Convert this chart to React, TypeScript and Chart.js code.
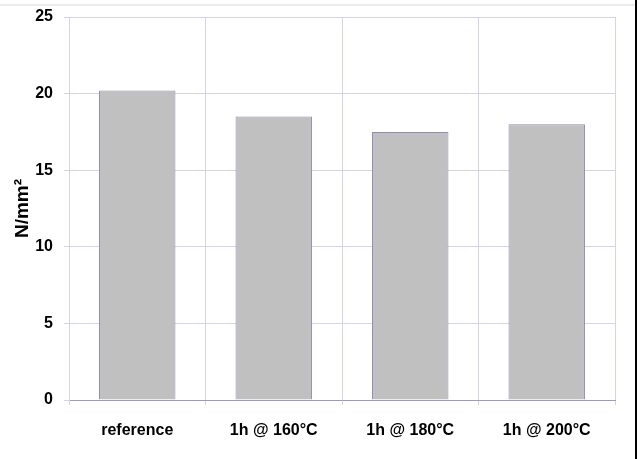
import React, { useEffect, useRef } from "react";
import { Chart, registerables } from "chart.js";

Chart.register(...registerables);

const categories = ["reference", "1h @ 160°C", "1h @ 180°C", "1h @ 200°C"];
const strength = [20.2, 18.5, 17.5, 18.0];
const yTicks = [0, 5, 10, 15, 20, 25];
const yTitle = "N/mm²";

const sans = "'Liberation Sans', Arial, sans-serif";

export default function App() {
  const ref = useRef<HTMLCanvasElement | null>(null);
  useEffect(() => {
    if (!ref.current) return;
    const chart = new Chart(ref.current, {
      type: "bar",
      data: {
        labels: categories,
        datasets: [
          {
            data: strength,
            backgroundColor: "#c0c0c0",
            borderColor: "#8c8cb8",
            borderWidth: 1,
            categoryPercentage: 0.56,
            barPercentage: 1,
          },
        ],
      },
      options: {
        animation: false,
        responsive: false,
        maintainAspectRatio: false,
        layout: { padding: { left: 11, right: 29, top: 17, bottom: 9 } },
        plugins: { legend: { display: false }, tooltip: { enabled: false } },
        scales: {
          x: {
            offset: true,
            afterFit: (axis: any) => {
              axis.height = 50;
            },
            grid: {
              offset: true,
              color: "#d4d4e8",
              lineWidth: 1,
              tickLength: 5,
            },
            border: { color: "#9a9ac4", width: 1 },
            ticks: {
              color: "#000",
              padding: 16,
              font: { family: sans, size: 16, weight: "bold" },
            },
          },
          y: {
            min: 0,
            max: 25,
            afterFit: (axis: any) => {
              axis.width = 58;
              axis.paddingTop = 0;
              axis.paddingBottom = 0;
            },
            afterBuildTicks: (axis: any) => {
              axis.ticks = yTicks.map((v) => ({ value: v }));
            },
            grid: { color: "#d4d4e8", lineWidth: 1, tickLength: 5 },
            border: { color: "#d4d4e8", width: 1 },
            ticks: {
              color: "#000",
              padding: 11,
              font: { family: sans, size: 16, weight: "bold" },
            },
            title: {
              display: true,
              text: yTitle,
              color: "#000",
              padding: { top: 0, bottom: 0 },
              font: { family: sans, size: 19, weight: "bold" },
            },
          },
        },
      },
    });
    return () => chart.destroy();
  }, []);
  return (
    <div style={{ position: "absolute", left: 0, top: 0, width: 644, height: 459, background: "#fff" }}>
      <canvas ref={ref} width={644} height={459} style={{ position: "absolute", left: 0, top: 0 }} />
      <div style={{ position: "absolute", left: 0, top: 4, width: 636, height: 2, background: "#ececec" }} />
      <div style={{ position: "absolute", left: 635, top: 0, width: 2, height: 459, background: "#000" }} />
    </div>
  );
}
